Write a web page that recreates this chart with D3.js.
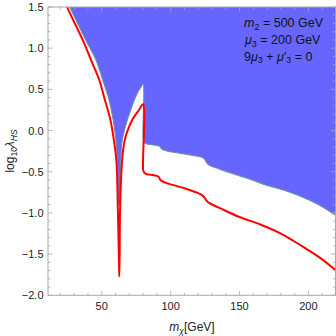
<!DOCTYPE html>
<html>
<head>
<meta charset="utf-8">
<script src="https://cdn.jsdelivr.net/npm/d3@7"></script>
<style>
  body { margin: 0; background: #fff; }
  text { font-family: "Liberation Sans", Arial, sans-serif; }
</style>
</head>
<body>
<svg id="chart" width="336" height="336"></svg>
<script>
// excluded region boundary (blue), [m_chi, log10 lambda_HS]
const blueEdge = [
  [26.5,1.55],[27,1.5],[32.5,1.3],[38.3,1.1],[45.8,0.857],[50.7,0.614],[55.3,0.371],[58.3,0.129],
  [60.3,-0.114],[61.6,-0.45],[62.5,-0.9],[63.0,-0.9],[63.7,-0.45],[64.6,-0.154],
  [67.2,0.05],[71.0,0.25],[75.8,0.453],[78.6,0.53],[80,0.566],
  [80,-0.08],[80.6,-0.13],[81.6,-0.155],[83.6,-0.165],[90.5,-0.182],[92.2,-0.195],[93.5,-0.225],
  [96.6,-0.245],[110,-0.285],[122.5,-0.325],[124.5,-0.345],[126.3,-0.395],[128.5,-0.425],
  [135,-0.465],[150,-0.55],[160,-0.605],[169,-0.66],[184,-0.735],[200,-0.84],[210,-0.925],[220,-1.03]
]

// red limit curve
const redLine = [
  [24.5,1.55],[25,1.5],[30.5,1.3],[36.2,1.1],[42.2,0.857],[48.2,0.614],[52.3,0.371],[56.3,0.129],
  [58.8,-0.114],[60.6,-0.357],[61.7,-0.964],[62.4,-1.5],[62.7,-1.773],[63.0,-1.5],
  [63.3,-0.96],[64.8,-0.357],[65.8,-0.2],[67.3,-0.074],[69.5,0.03],[72.1,0.129],[77.0,0.25],[80,0.319],
  [80,-0.47],[80.5,-0.5],[82,-0.525],[85,-0.535],[90,-0.55],[91.5,-0.565],[92.5,-0.6],[94,-0.615],
  [96.6,-0.635],[110,-0.70],[122,-0.775],[124,-0.80],[126,-0.85],[128.5,-0.885],[135,-0.935],
  [150,-1.05],[165,-1.14],[180,-1.25],[195,-1.40],[208,-1.54],[220,-1.70]
]

const xTicks = [50, 100, 150, 200]
const yTicks = [-2.0, -1.5, -1.0, -0.5, 0.0, 0.5, 1.0, 1.5]

const svg = d3.select("#chart")
const pl = 48, pr = 336, pt = 7, pb = 295.3

const x = d3.scaleLinear().domain([11, 220]).range([pl, pr])
const y = d3.scaleLinear().domain([-2, 1.5]).range([pb, pt])

svg.append("clipPath").attr("id", "clip")
  .append("rect").attr("x", pl).attr("y", pt).attr("width", pr-pl).attr("height", pb-pt)

const plot = svg.append("g").attr("clip-path", "url(#clip)")

const line = d3.line().x(d => x(d[0])).y(d => y(d[1])).curve(d3.curveCatmullRom.alpha(0.5))

// blue fill: boundary then close along the top-right
const fillPts = blueEdge.concat([[225, -1.03], [225, 1.6], [26.5, 1.6]])
plot.append("path")
  .attr("d", line(fillPts))
  .attr("fill", "rgb(102,102,255)")
  .attr("stroke", "none")

plot.append("path")
  .attr("d", line(blueEdge))
  .attr("fill", "none")
  .attr("stroke", "#6e8fa6")
  .attr("stroke-width", 1.1)

plot.append("path")
  .attr("d", line(redLine))
  .attr("fill", "none")
  .attr("stroke", "#ff0000")
  .attr("stroke-width", 2)
  .attr("stroke-linejoin", "round")

// frame + ticks
const frameCol = "#a8a8a8"
svg.append("rect")
  .attr("x", pl).attr("y", pt).attr("width", pr-pl-0.5).attr("height", pb-pt)
  .attr("fill", "none").attr("stroke", frameCol).attr("stroke-width", 1)

const xMinor = d3.range(20, 221, 10).filter(v => !xTicks.includes(v))
const yMinor = d3.range(-20, 16, 1).map(v => v/10).filter(v => !yTicks.some(t => Math.abs(t-v) < 1e-6))

function xTickMarks(vals, len) {
  const g = svg.append("g").attr("stroke", frameCol).attr("stroke-width", 0.8)
  vals.forEach(v => {
    g.append("line").attr("x1", x(v)).attr("x2", x(v)).attr("y1", pb).attr("y2", pb-len)
    g.append("line").attr("x1", x(v)).attr("x2", x(v)).attr("y1", pt).attr("y2", pt+len)
  })
}
function yTickMarks(vals, len) {
  const g = svg.append("g").attr("stroke", frameCol).attr("stroke-width", 0.8)
  vals.forEach(v => {
    g.append("line").attr("y1", y(v)).attr("y2", y(v)).attr("x1", pl).attr("x2", pl+len)
    g.append("line").attr("y1", y(v)).attr("y2", y(v)).attr("x1", pr-0.5).attr("x2", pr-0.5-len)
  })
}
xTickMarks(xTicks, 4.5)
xTickMarks(xMinor, 2.5)
yTickMarks(yTicks, 4.5)
yTickMarks(yMinor, 2.5)

svg.append("g").selectAll("text").data(xTicks).join("text")
  .attr("x", d => x(d)).attr("y", 309.5)
  .attr("text-anchor", "middle").attr("font-size", 11).attr("fill", "#222")
  .text(d => d)

svg.append("g").selectAll("text").data(yTicks).join("text")
  .attr("x", 43.5).attr("y", d => y(d) + 4)
  .attr("text-anchor", "end").attr("font-size", 11).attr("fill", "#222")
  .text(d => (d < 0 ? "\u2212" : "") + Math.abs(d).toFixed(1))

// axis labels
const xl = svg.append("text").attr("x", 192).attr("y", 331)
  .attr("text-anchor", "middle").attr("font-size", 12).attr("fill", "#222")
xl.append("tspan").attr("font-style", "italic").text("m")
xl.append("tspan").attr("font-style", "italic").attr("font-size", 8.5).attr("dy", 2.5).text("\u03c7")
xl.append("tspan").attr("dy", -2.5).text("[GeV]")

const yl = svg.append("text").attr("transform", "translate(14,151) rotate(-90)")
  .attr("text-anchor", "middle").attr("font-size", 12).attr("fill", "#222")
yl.append("tspan").text("log")
yl.append("tspan").attr("font-size", 8.5).attr("dy", 2.5).text("10")
yl.append("tspan").attr("dy", -2.5).attr("font-style", "italic").text("\u03bb")
yl.append("tspan").attr("font-size", 8.5).attr("dy", 2.5).attr("font-style", "italic").text("HS")

// annotations
const ann = svg.append("g").attr("font-size", 12.5).attr("fill", "#111")
const t1 = ann.append("text").attr("x", 244).attr("y", 27)
t1.append("tspan").attr("font-style", "italic").text("m")
t1.append("tspan").attr("font-size", 9).attr("dy", 2.5).text("2")
t1.append("tspan").attr("dy", -2.5).text(" = 500 GeV")
const t2 = ann.append("text").attr("x", 245).attr("y", 44)
t2.append("tspan").attr("font-style", "italic").text("\u03bc")
t2.append("tspan").attr("font-size", 9).attr("dy", 2.5).text("3")
t2.append("tspan").attr("dy", -2.5).text(" = 200 GeV")
const t3 = ann.append("text").attr("x", 244).attr("y", 60.5)
t3.append("tspan").text("9")
t3.append("tspan").attr("font-style", "italic").text("\u03bc")
t3.append("tspan").attr("font-size", 9).attr("dy", 2.5).text("3")
t3.append("tspan").attr("dy", -2.5).text(" + ")
t3.append("tspan").attr("font-style", "italic").text("\u03bc")
t3.append("tspan").text("\u2032")
t3.append("tspan").attr("font-size", 9).attr("dy", 2.5).text("3")
t3.append("tspan").attr("dy", -2.5).text(" = 0")
</script>
</body>
</html>
